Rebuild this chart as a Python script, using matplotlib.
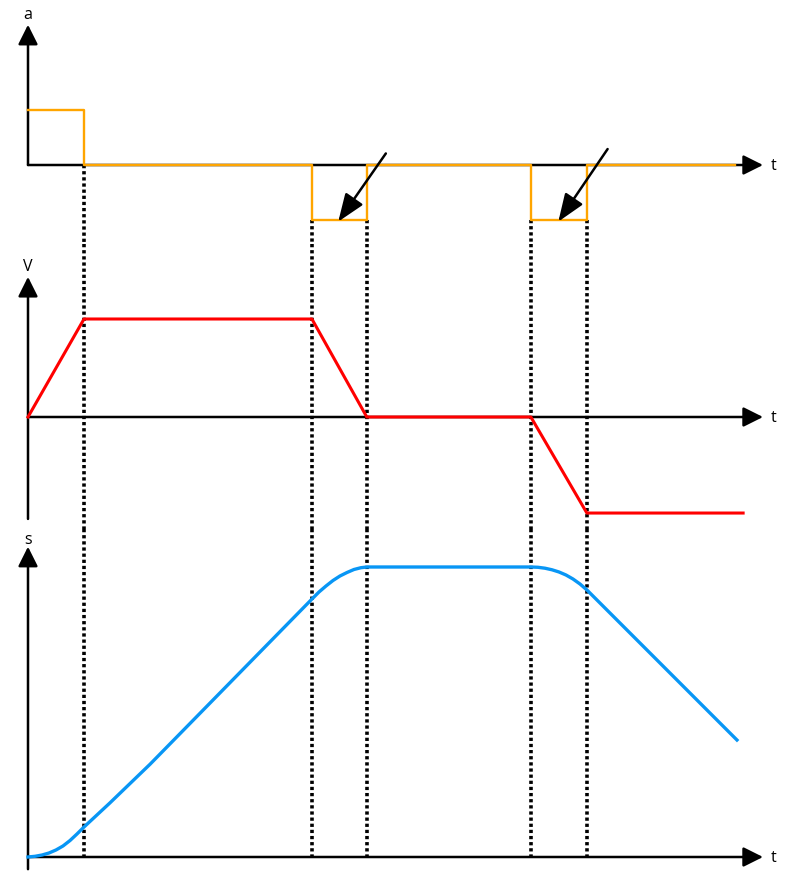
import matplotlib.pyplot as plt

plt.rcParams['font.family'] = ['Open Sans', 'DejaVu Sans']

# switching times (dotted guide lines)
t_marks = [1.0, 5.07, 6.05, 8.98, 9.98]

# acceleration a(t), step values
acc_t = [0, 1.0, 5.07, 6.05, 8.98, 9.98, 12.63]
acc_v = [1, 0, -1, 0, -1, 0, 0]

# velocity V(t)
vel_t = [0, 1.0, 5.07, 6.05, 8.98, 9.98, 12.77]
vel_v = [0, 1, 1, 0, 0, -0.98, -0.98]

# position s(t)
pos_t = [0, 0.125, 0.25, 0.375, 0.5, 0.625, 0.75, 0.875, 1.0,
         1.46, 2.18,
         5.071, 5.196, 5.321, 5.446, 5.571, 5.696, 5.821, 5.946, 6.054,
         8.982, 9.107, 9.232, 9.357, 9.482, 9.607, 9.732, 9.857, 9.982,
         12.66]
pos_s = [0, 0.012, 0.034, 0.069, 0.121, 0.19, 0.284, 0.397, 0.517,
         0.93, 1.60,
         4.448, 4.569, 4.672, 4.767, 4.845, 4.905, 4.957, 4.988, 5.0,
         5.0, 4.995, 4.979, 4.952, 4.914, 4.862, 4.793, 4.707, 4.603,
         2.017]

# black pointer arrows on the a-plot: (start t, start a, tip t, tip a)
pointers = [(6.39, 0.21, 5.54, -1.03), (10.35, 0.29, 9.47, -1.03)]

W, H = 800, 879
fig = plt.figure(figsize=(W / 100, H / 100), dpi=100)


def make_ax(top, bottom, zero, scale):
    ax = fig.add_axes([0, 1 - bottom / H, 1, (bottom - top) / H])
    ax.set_xlim(-28 / 56, (W - 28) / 56)
    ax.set_ylim(-(bottom - zero) / scale, (zero - top) / scale)
    ax.axis('off')
    return ax


ax_a = make_ax(0, 245, 166, 55)
ax_v = make_ax(245, 530, 418, 98)
ax_s = make_ax(530, 879, 858, 58)

axis_style = dict(arrowstyle='-|>,head_length=1.2,head_width=0.6', color='black',
                  lw=1.8, shrinkA=0, shrinkB=0)


def draw_axes(ax, ybot, ytip, ylab, name):
    ax.annotate('', xy=(13.125, 0), xytext=(0, 0), arrowprops=axis_style)
    ax.annotate('', xy=(0, ytip), xytext=(0, ybot), arrowprops=axis_style)
    ax.text(13.32, 0, 't', fontsize=11.5, ha='center', va='center')
    ax.text(0, ylab, name, fontsize=11.5, ha='center', va='center')


draw_axes(ax_a, 0, 2.55, 2.75, 'a')
draw_axes(ax_v, -1.04, 1.43, 1.54, 'V')
draw_axes(ax_s, -0.21, 5.35, 5.48, 's')

ax_a.step(acc_t, acc_v, where='post', color='#FFA500', lw=1.7, zorder=3)
ax_v.plot(vel_t, vel_v, color='#FF0000', lw=2.2, zorder=3)
ax_s.plot(pos_t, pos_s, color='#0896F5', lw=2.4, zorder=3,
          solid_joinstyle='round')

for t0, a0, t1, a1 in pointers:
    ax_a.annotate('', xy=(t1, a1), xytext=(t0, a0),
                  arrowprops=dict(arrowstyle='-|>,head_length=1.7,head_width=0.65',
                                  color='black', lw=1.8, shrinkA=0, shrinkB=0),
                  zorder=4)

# dotted guides from the a-plot down to the s time axis
dots = dict(color='black', lw=2.6, linestyle=(0, (0.9, 0.8)), clip_on=False, zorder=2)
for i, t in enumerate(t_marks):
    a_start = 0 if i == 0 else -1
    ax_a.plot([t, t], [a_start, ax_a.get_ylim()[0]], **dots)
    ax_v.plot([t, t], list(ax_v.get_ylim())[::-1], **dots)
    ax_s.plot([t, t], [ax_s.get_ylim()[1], 0], **dots)

fig.savefig('out.png', dpi=100)
